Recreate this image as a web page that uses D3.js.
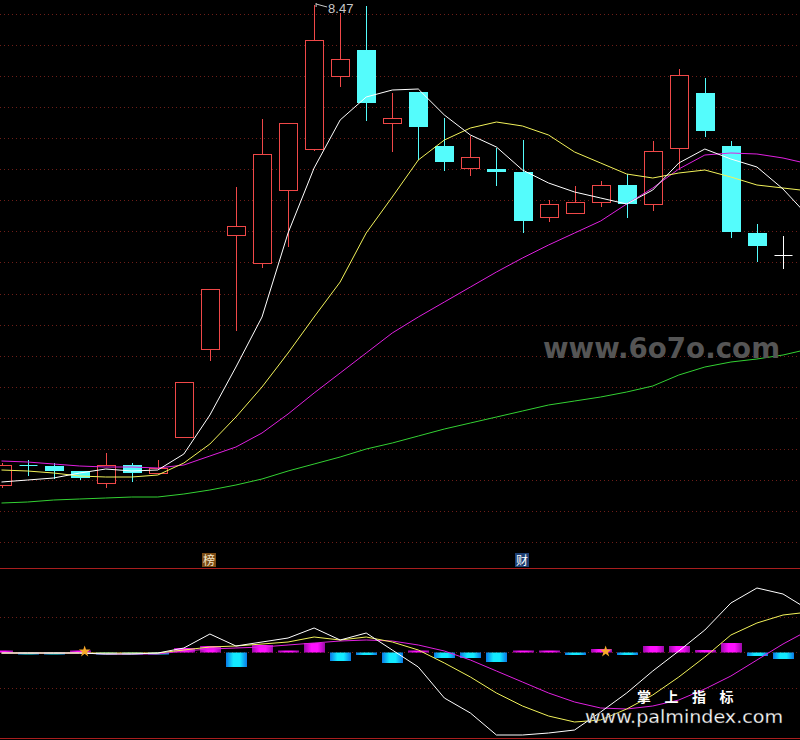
<!DOCTYPE html>
<html><head><meta charset="utf-8">
<script src="https://cdn.jsdelivr.net/npm/d3@7"></script>
<style>html,body{margin:0;padding:0;background:#000;overflow:hidden}svg{display:block}</style>
</head><body><svg id="c" width="800" height="740"></svg>
<script>
// ---------- data ----------
const opens  = [3.67,3.87,3.86,3.81,3.69,3.87,3.79,4.15,5.03,6.17,5.89,6.62,7.03,7.76,8.02,7.29,7.60,7.06,6.84,6.83,6.80,6.35,6.39,6.50,6.67,6.48,7.04,7.59,7.06,6.19,5.97];
const closes = [3.87,3.87,3.81,3.74,3.87,3.79,3.84,4.70,5.63,6.26,6.98,7.29,8.12,7.93,7.49,7.34,7.25,6.90,6.95,6.80,6.31,6.48,6.50,6.67,6.48,7.01,7.77,7.21,6.20,6.06,5.97];
const highs  = [3.89,3.92,3.89,3.81,3.99,3.89,3.92,4.70,5.63,6.65,7.33,7.29,8.47,8.39,8.46,7.59,7.60,7.34,7.16,7.04,7.12,6.52,6.66,6.71,6.78,7.11,7.83,7.74,7.11,6.28,6.16];
const lows   = [3.64,3.76,3.73,3.72,3.64,3.70,3.78,4.15,4.91,5.21,5.84,6.05,7.01,7.65,7.31,7.00,6.92,6.81,6.76,6.66,6.19,6.30,6.39,6.45,6.34,6.41,6.82,7.15,6.14,5.90,5.83];

const ma5  = [3.70,3.72,3.74,3.79,3.83,3.81,3.82,3.98,4.37,4.85,5.35,6.19,6.84,7.32,7.55,7.62,7.63,7.37,7.17,7.05,6.82,6.69,6.60,6.54,6.48,6.62,6.89,7.03,6.93,6.85,6.63,6.35];
const ma10 = [3.82,3.81,3.79,3.76,3.75,3.75,3.77,3.89,4.08,4.35,4.65,4.99,5.35,5.70,6.19,6.55,6.92,7.12,7.24,7.30,7.26,7.17,7.00,6.89,6.78,6.74,6.79,6.82,6.75,6.67,6.64,6.61];
const ma20 = [3.91,3.90,3.88,3.86,3.85,3.85,3.84,3.87,3.96,4.05,4.19,4.38,4.59,4.79,4.99,5.19,5.35,5.50,5.65,5.80,5.94,6.07,6.19,6.31,6.48,6.64,6.83,6.97,6.99,6.98,6.94,6.88];
const ma60 = [3.49,3.50,3.52,3.53,3.54,3.55,3.55,3.58,3.62,3.67,3.73,3.81,3.88,3.95,4.03,4.09,4.16,4.23,4.29,4.35,4.41,4.47,4.51,4.55,4.60,4.66,4.77,4.85,4.90,4.93,4.97,5.03];

const oscFast = [-0.01,-0.01,-0.01,-0.01,-0.02,-0.02,-0.01,0.04,0.18,0.06,0.10,0.14,0.24,0.12,0.19,0.02,-0.15,-0.46,-0.61,-0.83,-0.83,-0.81,-0.78,-0.60,-0.41,-0.19,0.01,0.22,0.49,0.64,0.58,0.42];
const oscMid  = [-0.01,-0.01,-0.01,-0.01,-0.01,-0.01,-0.01,0.02,0.05,0.06,0.08,0.10,0.15,0.12,0.15,0.10,0.02,-0.11,-0.25,-0.41,-0.54,-0.64,-0.70,-0.68,-0.57,-0.43,-0.25,-0.05,0.17,0.29,0.37,0.40];
const oscSlow = [-0.01,-0.01,-0.01,-0.01,-0.02,-0.02,-0.02,0.01,0.03,0.04,0.05,0.07,0.09,0.11,0.12,0.11,0.07,0.01,-0.08,-0.19,-0.30,-0.41,-0.50,-0.56,-0.57,-0.54,-0.48,-0.37,-0.24,-0.08,0.08,0.22];
const histVals = [0.01,-0.01,-0.01,0.01,-0.01,-0.01,-0.02,0.04,0.06,-0.15,0.07,0.01,0.09,-0.09,-0.03,-0.11,0.01,-0.06,-0.06,-0.10,0.01,0.01,-0.03,0.03,-0.03,0.06,0.06,0.02,0.09,-0.04,-0.07];
const oscTicks = [0.35, 0, -0.36];

const starIdx = [3, 23];
const markIdx = [8, 20];
const markText = ["榜", "财"];
const peakText = "8.47";

// ---------- drawing ----------
const svg = d3.select("#c");
svg.append("rect").attr("width",800).attr("height",740).attr("fill","#000");

const x  = d3.scaleLinear().domain([0,30]).range([1.5,783]);
const yP = d3.scaleLinear().domain([3.14,8.52]).range([538,0]);
const yO = d3.scaleLinear().domain([-0.86,0.84]).range([738,568]);

const defs = svg.append("defs");
function grad(id, edge, mid){
  const g = defs.append("linearGradient").attr("id",id).attr("x1","0").attr("x2","1").attr("y1","0").attr("y2","0");
  g.append("stop").attr("offset","0%").attr("stop-color",edge);
  g.append("stop").attr("offset","35%").attr("stop-color",mid);
  g.append("stop").attr("offset","65%").attr("stop-color",mid);
  g.append("stop").attr("offset","100%").attr("stop-color",edge);
}
grad("gm","#9a0aa8","#ff10ff");
grad("gc","#0a78e6","#12eaff");

const gridColor = "#6e1e18";
// main panel grid (equal divisions)
const mainGrid = d3.range(18).map(k => Math.round(14 + k*31.06) + 0.5);
svg.append("g").selectAll("line").data(mainGrid).join("line")
  .attr("x1",0).attr("x2",800).attr("y1",d=>d).attr("y2",d=>d)
  .attr("stroke",gridColor).attr("stroke-width",1).attr("stroke-dasharray","1,3");
// oscillator grid
svg.append("g").selectAll("line").data(oscTicks).join("line")
  .attr("x1",0).attr("x2",800).attr("y1",d=>Math.round(yO(d))+0.5).attr("y2",d=>Math.round(yO(d))+0.5)
  .attr("stroke",gridColor).attr("stroke-width",1).attr("stroke-dasharray","1,3");
// panel separators
svg.append("line").attr("x1",0).attr("x2",800).attr("y1",568.5).attr("y2",568.5).attr("stroke","#a81e1e");
svg.append("line").attr("x1",0).attr("x2",800).attr("y1",738.5).attr("y2",738.5).attr("stroke","#a81e1e");

// candles
const red = "#f04848", cyan = "#54fcfc";
const candles = d3.range(opens.length).map(i => ({i, o:opens[i], c:closes[i], h:highs[i], l:lows[i]}));
const cg = svg.append("g");
candles.forEach(d => {
  const cx = Math.round(x(d.i)) + 0.5;
  const yo = Math.round(yP(d.o)), yc = Math.round(yP(d.c)), yh = Math.round(yP(d.h)), yl = Math.round(yP(d.l));
  if (d.c > d.o) {
    if (yh < yc) cg.append("line").attr("x1",cx).attr("x2",cx).attr("y1",yh).attr("y2",yc).attr("stroke",red);
    if (yl > yo) cg.append("line").attr("x1",cx).attr("x2",cx).attr("y1",yo).attr("y2",yl).attr("stroke",red);
    cg.append("rect").attr("x",cx-9).attr("y",yc+0.5).attr("width",18).attr("height",Math.max(1,yo-yc))
      .attr("fill","#000").attr("stroke",red).attr("stroke-width",1);
  } else if (d.c < d.o) {
    cg.append("line").attr("x1",cx).attr("x2",cx).attr("y1",yh).attr("y2",yl).attr("stroke",cyan);
    cg.append("rect").attr("x",cx-9.5).attr("y",yo).attr("width",19).attr("height",Math.max(2,yc-yo)).attr("fill",cyan);
  } else {
    const col = d.i === candles.length-1 ? "#ffffff" : cyan;
    cg.append("line").attr("x1",cx).attr("x2",cx).attr("y1",yh).attr("y2",yl).attr("stroke",col);
    cg.append("line").attr("x1",cx-9).attr("x2",cx+9).attr("y1",yc+0.5).attr("y2",yc+0.5).attr("stroke",col);
  }
});

// moving averages
const lineP = d3.line().x((d,i)=>x(i)).y(d=>yP(d));
[[ma60,"#33d133"],[ma20,"#e020e0"],[ma10,"#f2f25a"],[ma5,"#ffffff"]].forEach(([arr,col]) => {
  svg.append("path").attr("d",lineP(arr)).attr("fill","none").attr("stroke",col).attr("stroke-width",1);
});

// peak label
const pk = d3.maxIndex(highs);
const px = x(pk), py = yP(highs[pk]);
svg.append("path").attr("d",`M${px+2},${py-2} L${px+2},${py+2} M${px+2},${py-1} L${px+13},${py+2}`)
  .attr("stroke","#c8c8c8").attr("fill","none").attr("stroke-width",1);
svg.append("text").attr("x",px+14).attr("y",py+8).text(peakText)
  .attr("fill","#c8c8c8").attr("font-family","Liberation Sans, Arial, sans-serif").attr("font-size",13);

// watermark 1
svg.append("text").attr("x",543).attr("y",358).text("www.6o7o.com")
  .attr("fill","#555555").attr("font-family","DejaVu Sans, sans-serif").attr("font-weight","bold")
  .attr("font-size",28).attr("textLength",237).attr("lengthAdjust","spacingAndGlyphs");

// marker labels
markIdx.forEach((mi,k) => {
  const cx = Math.round(x(mi)) - 1;
  const bg = k === 0 ? "#7a4a14" : "#1c3e72";
  const fg = k === 0 ? "#f3e6c8" : "#ffffff";
  svg.append("rect").attr("x",cx-7).attr("y",553).attr("width",14).attr("height",14).attr("fill",bg);
  svg.append("text").attr("x",cx).attr("y",565).attr("text-anchor","middle").text(markText[k])
    .attr("fill",fg).attr("font-family","Noto Sans CJK SC, sans-serif").attr("font-size",12);
});

// histogram
const y0 = Math.round(yO(0)) + 0.5;
svg.append("g").selectAll("rect").data(histVals).join("rect")
  .attr("x",(d,i)=>Math.round(x(i)) - 10)
  .attr("width",21)
  .attr("y",d => d >= 0 ? Math.min(y0-2, yO(d)) : y0)
  .attr("height",d => Math.max(2, Math.abs(yO(d) - y0)))
  .attr("fill",d => d >= 0 ? "url(#gm)" : "url(#gc)");

// oscillator lines
const lineO = d3.line().x((d,i)=>x(i)).y(d=>yO(d));
[[oscSlow,"#e020e0"],[oscMid,"#f2f25a"],[oscFast,"#ffffff"]].forEach(([arr,col]) => {
  svg.append("path").attr("d",lineO(arr)).attr("fill","none").attr("stroke",col).attr("stroke-width",1);
});

// stars
svg.append("g").selectAll("path").data(starIdx).join("path")
  .attr("d",d3.symbol(d3.symbolStar).size(42))
  .attr("transform",d=>`translate(${x(d)+5},${y0-1})`)
  .attr("fill","#f7a829");

// watermark 2
svg.append("text").attr("x",637).attr("y",702).text("掌上指标")
  .attr("fill","#ffffff").attr("font-family","Noto Sans CJK SC, sans-serif").attr("font-weight","bold")
  .attr("font-size",14).attr("letter-spacing",13.5);
svg.append("text").attr("x",585).attr("y",723).text("www.palmindex.com")
  .attr("fill","#ffffff").attr("font-family","DejaVu Sans, sans-serif").attr("font-size",18.5)
  .attr("textLength",198).attr("lengthAdjust","spacingAndGlyphs")
  .attr("stroke","#333").attr("stroke-width",0.3);
</script>
</body></html>
